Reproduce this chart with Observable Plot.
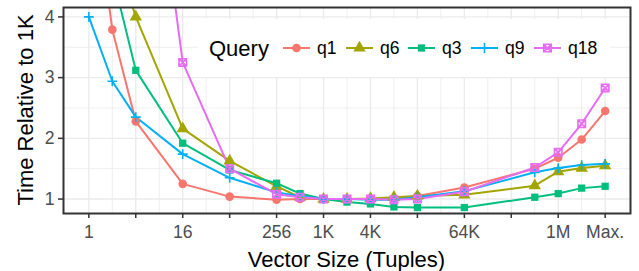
<!DOCTYPE html>
<html><head><meta charset="utf-8">
<script src="https://cdn.jsdelivr.net/npm/d3@7"></script>
<script src="https://cdn.jsdelivr.net/npm/@observablehq/plot@0.6"></script>
<style>
body{margin:0;background:#fff;}
#chart{position:relative;width:639px;height:271px;font-family:"Liberation Sans",Arial,Helvetica,sans-serif;}
</style>
</head><body><div id="chart"></div>
<script>
// ---- data ----
const sizes = [1, 2, 4, 16, 64, 256, 512, 1024, 2048, 4096, 8192, 16384, 65536, 524288, 1048576, 2097152, 4194304];
const queries = ["q1", "q6", "q3", "q9", "q18"];
const colors = ["#F8766D", "#A3A500", "#00BF7D", "#00B0F6", "#E76BF3"];
const q1  = [6.7, 3.79, 2.28, 1.25, 1.04, 0.99, 1.00, 1.00, 1.00, 1.00, 1.01, 1.05, 1.19, 1.50, 1.68, 1.98, 2.45];
const q6  = [null, 5.2, 4.00, 2.16, 1.63, 1.21, 1.03, 1.00, 1.00, 1.01, 1.03, 1.05, 1.07, 1.22, 1.45, 1.51, 1.55];
const q3  = [null, 4.7, 3.12, 1.92, 1.48, 1.26, 1.09, 1.00, 0.95, 0.92, 0.87, 0.86, 0.86, 1.03, 1.09, 1.18, 1.21];
const q9  = [4.00, 2.94, 2.35, 1.74, 1.35, 1.11, 1.05, 1.00, 1.00, 0.99, 0.99, 1.03, 1.13, 1.44, 1.51, 1.56, 1.58];
const q18 = [null, null, 9.1, 3.25, 1.50, 1.08, 1.03, 1.00, 1.00, 1.00, 0.99, 1.00, 1.12, 1.52, 1.77, 2.24, 2.83];
const xTicks = [1, 4, 16, 64, 256, 1024, 4096, 16384, 65536, 262144, 1048576, 4194304];
const xTickLabels = ["1", "", "16", "", "256", "1K", "4K", "", "64K", "", "1M", "Max."];
const yTicks = [1, 2, 3, 4];
const yTickLabels = ["1", "2", "3", "4"];
const xTitle = "Vector Size (Tuples)";
const yTitle = "Time Relative to 1K";
const legendTitle = "Query";

// ---- build table ----
const seriesValues = {q1, q6, q3, q9, q18};
const rows = queries.flatMap(q => sizes.map((s, i) => ({query: q, size: s, value: seriesValues[q][i]})));

const squareCross = {
  draw(ctx, size) {
    const s = Math.sqrt(size) / 2;
    ctx.moveTo(-s, -s); ctx.lineTo(s, -s); ctx.lineTo(s, s); ctx.lineTo(-s, s); ctx.closePath();
    ctx.moveTo(-s, -s); ctx.lineTo(s, s);
    ctx.moveTo(s, -s); ctx.lineTo(-s, s);
  }
};
const plusSym = {
  draw(ctx, size) {
    const h = Math.sqrt(size) * 0.6;
    ctx.moveTo(-h, 0); ctx.lineTo(h, 0);
    ctx.moveTo(0, -h); ctx.lineTo(0, h);
  }
};
const symbolSpec = {
  q1:  {symbol: d3.symbolCircle,   filled: true,  r: 4.3},
  q6:  {symbol: d3.symbolTriangle, filled: true,  r: 4.6},
  q3:  {symbol: d3.symbolSquare,   filled: true,  r: 4.1},
  q9:  {symbol: plusSym,           filled: false, r: 4.6},
  q18: {symbol: squareCross,       filled: false, r: 4.2}
};

const tickLabelMap = new Map(xTicks.map((t, i) => [t, xTickLabels[i]]));
const yLabelMap = new Map(yTicks.map((t, i) => [t, yTickLabels[i]]));
const majorX = d3.range(0, 23, 2).map(k => 2 ** k);
const minorX = d3.range(1, 23, 2).map(k => 2 ** k);
const grid = "#EBEBEB";

const marks = [
  Plot.ruleY([1.5, 2.5, 3.5], {stroke: grid, strokeWidth: 0.8}),
  Plot.ruleX(minorX, {stroke: grid, strokeWidth: 0.8}),
  Plot.ruleY(yTicks, {stroke: grid, strokeWidth: 1.4}),
  Plot.ruleX(majorX, {stroke: grid, strokeWidth: 1.4})
];
queries.forEach((q, i) => {
  marks.push(Plot.line(rows.filter(d => d.query === q), {x: "size", y: "value", stroke: colors[i], strokeWidth: 2, clip: true}));
});
queries.forEach((q, i) => {
  const sp = symbolSpec[q];
  const data = rows.filter(d => d.query === q && d.value != null);
  marks.push(Plot.dot(data, sp.filled
    ? {x: "size", y: "value", symbol: sp.symbol, r: sp.r, fill: colors[i], stroke: "none", clip: true}
    : {x: "size", y: "value", symbol: sp.symbol, r: sp.r, fill: "none", stroke: colors[i], strokeWidth: 1.6, clip: true}));
});
marks.push(Plot.frame({stroke: "#333333", strokeWidth: 2}));

const svg = Plot.plot({
  width: 639, height: 271,
  marginLeft: 63, marginRight: 9, marginTop: 7, marginBottom: 58,
  style: {fontFamily: '"Liberation Sans", Arial, Helvetica, sans-serif', fontSize: "17.6px", color: "#4d4d4d", background: "#fff"},
  x: {type: "log", base: 2, domain: [2 ** -1.08, 2 ** 23.08], ticks: xTicks, tickFormat: d => tickLabelMap.get(d) ?? "", tickSize: 5, tickPadding: 7, label: null},
  y: {domain: [0.762, 4.155], ticks: yTicks, tickFormat: d => yLabelMap.get(d) ?? "", tickSize: 5, tickPadding: 4, label: null},
  marks
});
document.getElementById("chart").appendChild(svg);

// darker tick marks
svg.querySelectorAll('[aria-label^="x-axis"], [aria-label^="y-axis"]').forEach(g => {
  g.querySelectorAll("path, line").forEach(p => { p.setAttribute("stroke", "#333333"); p.setAttribute("stroke-width", "1.5"); });
});

const s = d3.select(svg);
// axis titles
s.append("text").attr("x", 346.5).attr("y", 267).attr("text-anchor", "middle")
  .attr("font-size", 22).attr("fill", "#000").text(xTitle);
s.append("text").attr("transform", "translate(33,110) rotate(-90)").attr("text-anchor", "middle")
  .attr("font-size", 22).attr("fill", "#000").text(yTitle);

// legend
const lg = s.append("g").attr("text-anchor", "start");
lg.append("rect").attr("x", 198).attr("y", 19).attr("width", 412).attr("height", 58).attr("fill", "#fff");
lg.append("text").attr("x", 209).attr("y", 48).attr("dy", "0.35em").attr("text-anchor", "start").attr("font-size", 22).attr("fill", "#000").text(legendTitle);
const keyStart = [283, 346, 408, 471, 534];
queries.forEach((q, i) => {
  const x0 = keyStart[i], cx = x0 + 13.5, cy = 48;
  lg.append("line").attr("x1", x0).attr("x2", x0 + 27).attr("y1", cy).attr("y2", cy).attr("stroke", colors[i]).attr("stroke-width", 2);
  const sp = symbolSpec[q];
  const path = d3.symbol(sp.symbol, Math.PI * sp.r * sp.r)();
  const p = lg.append("path").attr("d", path).attr("transform", `translate(${cx},${cy})`);
  if (sp.filled) p.attr("fill", colors[i]);
  else p.attr("fill", "none").attr("stroke", colors[i]).attr("stroke-width", 1.6);
  lg.append("text").attr("x", x0 + 34).attr("y", cy).attr("dy", "0.35em").attr("text-anchor", "start").attr("font-size", 17.6).attr("fill", "#000").text(q);
});
</script>
</body></html>
